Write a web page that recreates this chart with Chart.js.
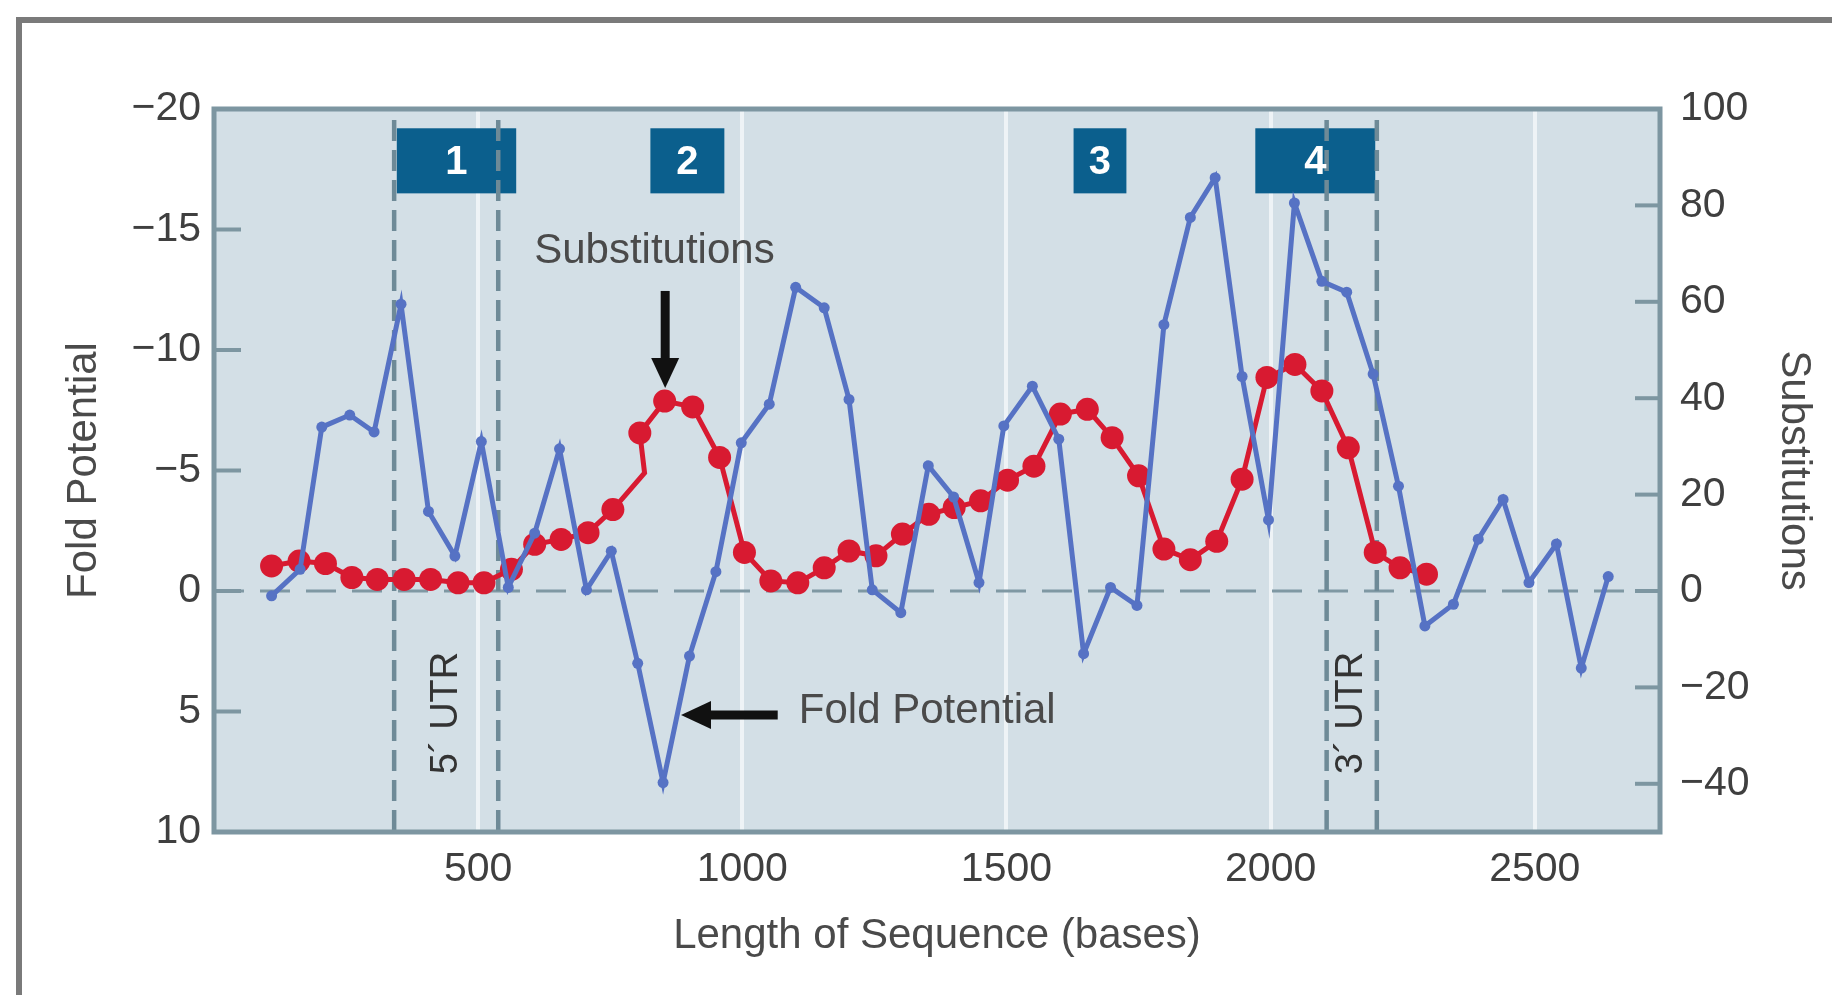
<!DOCTYPE html>
<html><head><meta charset="utf-8">
<script src="https://cdn.jsdelivr.net/npm/chart.js@4.4.1/dist/chart.umd.min.js"></script>
<style>html,body{margin:0;padding:0;background:#fff;overflow:hidden}#wrap{width:1832px;height:995px;position:relative}</style>
</head><body><div id="wrap"><canvas id="c" width="1832" height="995"></canvas></div>
<script>
// ---- data ----
const foldPositions = [109,163,204,257,303,354,406,456,506,557,607,654,705,752,802,850,900,950,998,1051,1101,1155,1202,1246,1300,1352,1400,1448,1495,1549,1599,1646,1697,1747,1798,1848,1895,1946,1996,2045,2097,2144,2194,2242,2292,2346,2393,2440,2489,2541,2588,2639];
const foldPotential = [0.2,-0.9,-6.8,-7.3,-6.6,-11.9,-3.3,-1.45,-6.2,-0.15,-2.4,-5.9,-0.05,-1.65,3.0,7.95,2.7,-0.8,-6.15,-7.75,-12.6,-11.75,-7.95,-0.05,0.9,-5.2,-3.9,-0.35,-6.85,-8.5,-6.3,2.6,-0.15,0.6,-11.05,-15.5,-17.15,-8.9,-2.95,-16.1,-12.85,-12.4,-9.0,-4.35,1.45,0.55,-2.15,-3.8,-0.35,-1.95,3.2,-0.6];
const subsPositions = [109,161,211,261,309,360,410,462,511,563,607,657,708,755,815,806,853,906,957,1004,1054,1105,1155,1202,1253,1303,1353,1401,1451,1502,1552,1602,1653,1700,1750,1798,1848,1898,1946,1993,2046,2097,2147,2198,2245,2295];
const substitutions = [5.2,6.2,5.7,2.8,2.4,2.4,2.4,1.7,1.7,4.5,9.7,10.7,12.1,16.9,24.5,32.8,39.4,38.2,27.7,8.0,2.1,1.7,4.8,8.3,7.3,11.8,15.9,17.3,18.7,23.0,25.9,36.7,37.7,31.8,23.9,8.7,6.5,10.3,23.2,44.3,47.0,41.5,29.7,8.0,4.8,3.5];
const subsUnmarkedIndex = [14];
const xTickValues = [500,1000,1500,2000,2500];
const foldTickValues = [-20,-15,-10,-5,0,5,10];
const subsTickValues = [-40,-20,0,20,40,60,80,100];
const regionLabels = ['1','2','3','4'];
const regionStarts = [346,826,1627,1971];
const regionEnds = [572,966,1727,2198];
const utrLabels = ['5\u00B4 UTR','3\u00B4 UTR'];
const utrStarts = [341,2106];
const utrEnds = [538,2201];

// ---- styles ----
const FONT = "'Liberation Sans', Arial, Helvetica, sans-serif";
const BLUE = '#5672c4';
const RED = '#d81a31';
const PLOT_BG = '#d3dfe6';
const AXIS_COL = '#7d96a1';
const TXT = '#3f3f3f';
const minus = v => (v < 0 ? '\u2212' + Math.abs(v) : String(v));

const decor = {
  id: 'decor',
  beforeDraw(chart) {
    const {ctx, chartArea: a} = chart;
    ctx.save();
    ctx.fillStyle = '#ffffff';
    ctx.fillRect(0, 0, chart.width, chart.height);
    ctx.strokeStyle = '#7a7a7a';
    ctx.lineWidth = 6;
    ctx.beginPath();
    ctx.moveTo(19, chart.height + 5); ctx.lineTo(19, 20); ctx.lineTo(chart.width + 5, 20);
    ctx.stroke();
    ctx.fillStyle = PLOT_BG;
    ctx.fillRect(a.left, a.top, a.right - a.left, a.bottom - a.top);
    ctx.restore();
  },
  beforeDatasetsDraw(chart) {
    const {ctx, chartArea: a, scales} = chart;
    const x = scales.x, yL = scales.yL, yR = scales.yR;
    ctx.save();
    // region boxes
    ctx.fillStyle = '#0b5f8d';
    const bTop = yL.getPixelForValue(-19.2), bBot = yL.getPixelForValue(-16.5);
    regionLabels.forEach((lab, i) => {
      const x0 = x.getPixelForValue(regionStarts[i]), x1 = x.getPixelForValue(regionEnds[i]);
      ctx.fillRect(x0, bTop, x1 - x0, bBot - bTop);
    });
    // zero dashed line
    ctx.strokeStyle = '#7f98a3';
    ctx.lineWidth = 3;
    ctx.setLineDash([30, 16]);
    const y0 = yL.getPixelForValue(0);
    ctx.beginPath(); ctx.moveTo(a.left, y0); ctx.lineTo(a.right, y0); ctx.stroke();
    // UTR dashed verticals
    ctx.strokeStyle = '#6e8a97';
    ctx.lineWidth = 4.5;
    ctx.setLineDash([21, 9]);
    const vTop = a.top + 11;
    [...utrStarts, ...utrEnds].forEach(v => {
      const px = x.getPixelForValue(v);
      ctx.beginPath(); ctx.moveTo(px, vTop); ctx.lineTo(px, a.bottom); ctx.stroke();
    });
    ctx.setLineDash([]);
    // box labels
    ctx.fillStyle = '#ffffff';
    ctx.font = 'bold 40px ' + FONT;
    ctx.textAlign = 'center'; ctx.textBaseline = 'middle';
    regionLabels.forEach((lab, i) => {
      const cx = (x.getPixelForValue(regionStarts[i]) + x.getPixelForValue(regionEnds[i])) / 2;
      ctx.fillText(lab, cx, (bTop + bBot) / 2 + 2);
    });
    // UTR labels
    ctx.fillStyle = '#333333';
    ctx.font = '38px ' + FONT;
    utrLabels.forEach((lab, i) => {
      const cx = (x.getPixelForValue(utrStarts[i]) + x.getPixelForValue(utrEnds[i])) / 2;
      ctx.save();
      ctx.translate(cx, yL.getPixelForValue(5.06));
      ctx.rotate(-Math.PI / 2);
      ctx.fillText(lab, 0, 0);
      ctx.restore();
    });
    // axis tick marks (inside)
    ctx.strokeStyle = AXIS_COL;
    ctx.lineWidth = 4;
    foldTickValues.forEach(v => {
      if (v === -20 || v === 10) return;
      const py = yL.getPixelForValue(v);
      ctx.beginPath(); ctx.moveTo(a.left, py); ctx.lineTo(a.left + 27, py); ctx.stroke();
    });
    subsTickValues.forEach(v => {
      if (v === 100) return;
      const py = yR.getPixelForValue(v);
      ctx.beginPath(); ctx.moveTo(a.right - 25, py); ctx.lineTo(a.right, py); ctx.stroke();
    });
    // plot border
    ctx.lineWidth = 5;
    ctx.strokeRect(a.left, a.top, a.right - a.left, a.bottom - a.top);
    ctx.restore();
  },
  afterDatasetsDraw(chart) {
    const {ctx, scales} = chart;
    const x = scales.x, yL = scales.yL;
    ctx.save();
    ctx.fillStyle = '#4a4a4a';
    ctx.font = '42px ' + FONT;
    ctx.textAlign = 'left'; ctx.textBaseline = 'middle';
    ctx.fillText('Substitutions', x.getPixelForValue(606), yL.getPixelForValue(-14.07));
    ctx.fillText('Fold Potential', x.getPixelForValue(1107), yL.getPixelForValue(5.0));
    // arrows
    ctx.fillStyle = '#111111';
    ctx.strokeStyle = '#111111';
    ctx.lineWidth = 9;
    // vertical arrow
    const ax = x.getPixelForValue(854), ay0 = yL.getPixelForValue(-12.45), ay1 = yL.getPixelForValue(-8.42);
    ctx.beginPath(); ctx.moveTo(ax, ay0); ctx.lineTo(ax, ay1 - 26); ctx.stroke();
    ctx.beginPath(); ctx.moveTo(ax, ay1); ctx.lineTo(ax - 14, ay1 - 30); ctx.lineTo(ax + 14, ay1 - 30); ctx.closePath(); ctx.fill();
    // horizontal arrow
    const hy = yL.getPixelForValue(5.15), hx0 = x.getPixelForValue(1067), hx1 = x.getPixelForValue(884);
    ctx.beginPath(); ctx.moveTo(hx0, hy); ctx.lineTo(hx1 + 26, hy); ctx.stroke();
    ctx.beginPath(); ctx.moveTo(hx1, hy); ctx.lineTo(hx1 + 30, hy - 14); ctx.lineTo(hx1 + 30, hy + 14); ctx.closePath(); ctx.fill();
    ctx.restore();
  }
};

const tickFont = {family: FONT, size: 41};
const titleFont = {family: FONT, size: 42};

new Chart(document.getElementById('c'), {
  type: 'line',
  data: {
    datasets: [
      {
        label: 'Fold Potential',
        data: foldPositions.map((p, i) => ({x: p, y: foldPotential[i]})),
        yAxisID: 'yL',
        borderColor: BLUE, backgroundColor: BLUE,
        borderWidth: 5, pointRadius: 5.5, pointHoverRadius: 5.5, pointBorderWidth: 0,
        tension: 0, order: 0
      },
      {
        label: 'Substitutions',
        data: subsPositions.map((p, i) => ({x: p, y: substitutions[i]})),
        yAxisID: 'yR',
        borderColor: RED, backgroundColor: RED,
        borderWidth: 5,
        pointRadius: c => (subsUnmarkedIndex.includes(c.dataIndex) ? 0 : 11.5),
        pointHoverRadius: c => (subsUnmarkedIndex.includes(c.dataIndex) ? 0 : 11.5),
        pointBorderWidth: 0,
        tension: 0, order: 1
      }
    ]
  },
  options: {
    responsive: false, animation: false, devicePixelRatio: 1,
    layout: {padding: {top: 109, left: 20, right: 0, bottom: 0}},
    plugins: {legend: {display: false}, tooltip: {enabled: false}},
    scales: {
      x: {
        type: 'linear', min: 0, max: 2737,
        afterBuildTicks: s => { s.ticks = xTickValues.map(v => ({value: v})); },
        afterFit: s => { s.height = 163; },
        grid: {display: true, drawOnChartArea: true, drawTicks: false, color: '#eef3f6', lineWidth: 4},
        border: {display: false},
        ticks: {padding: 13, font: tickFont, color: TXT, maxRotation: 0, autoSkip: false, callback: v => String(v)},
        title: {display: true, text: 'Length of Sequence (bases)', font: titleFont, color: '#4a4a4a', padding: {top: 0, bottom: 33}}
      },
      yL: {
        position: 'left', reverse: true, min: -20, max: 10,
        afterBuildTicks: s => { s.ticks = foldTickValues.map(v => ({value: v})); },
        afterFit: s => { s.width = 194; },
        grid: {display: false, drawTicks: false},
        border: {display: false},
        ticks: {padding: 13, font: tickFont, color: TXT, autoSkip: false, callback: v => minus(v)},
        title: {display: true, text: 'Fold Potential', font: titleFont, color: '#4a4a4a', padding: {top: 39, bottom: 0}}
      },
      yR: {
        position: 'right', min: -50, max: 100,
        afterBuildTicks: s => { s.ticks = subsTickValues.map(v => ({value: v})); },
        afterFit: s => { s.width = 172; },
        grid: {display: false, drawTicks: false},
        border: {display: false},
        ticks: {padding: 20, font: tickFont, color: TXT, autoSkip: false, callback: v => minus(v)},
        title: {display: true, text: 'Substitutions', font: titleFont, color: '#4a4a4a', padding: {top: 13, bottom: 0}}
      }
    }
  },
  plugins: [decor]
});
</script>
</body></html>
